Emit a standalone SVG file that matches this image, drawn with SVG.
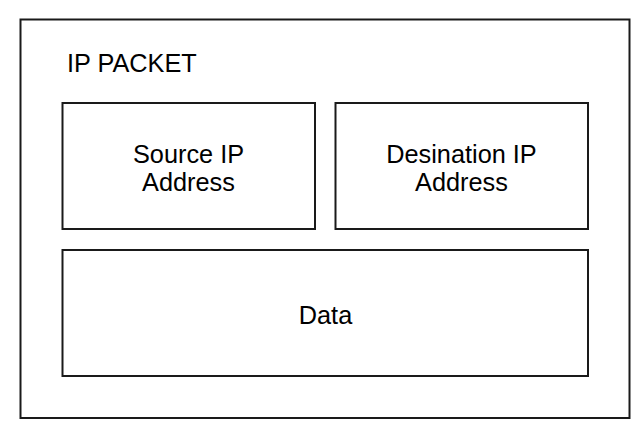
<svg xmlns="http://www.w3.org/2000/svg" width="644" height="435" viewBox="0 0 644 435">
<style>
rect.box{fill:#ffffff;stroke:#1a1a1a;stroke-width:2}
text{font-family:"Liberation Sans",Arial,sans-serif;font-size:25.3px;fill:#000000}
text.c{text-anchor:middle}
</style>
<rect width="644" height="435" fill="#ffffff"/>
<g id="ip-packet">
<rect class="box" x="20.5" y="19.5" width="609" height="398.5"/>
<text x="67" y="71.5">IP PACKET</text>
</g>
<g id="source-ip">
<rect class="box" x="62.5" y="103" width="252.5" height="126"/>
<text class="c" x="188.5" y="162.5">Source IP</text>
<text class="c" x="188.5" y="191">Address</text>
</g>
<g id="destination-ip">
<rect class="box" x="335.5" y="103" width="252.5" height="126"/>
<text class="c" x="461.5" y="162.5">Desination IP</text>
<text class="c" x="461.5" y="191">Address</text>
</g>
<g id="data">
<rect class="box" x="62.5" y="250" width="525.5" height="126"/>
<text class="c" x="325.5" y="324">Data</text>
</g>
<g id="connectors"></g>
</svg>
